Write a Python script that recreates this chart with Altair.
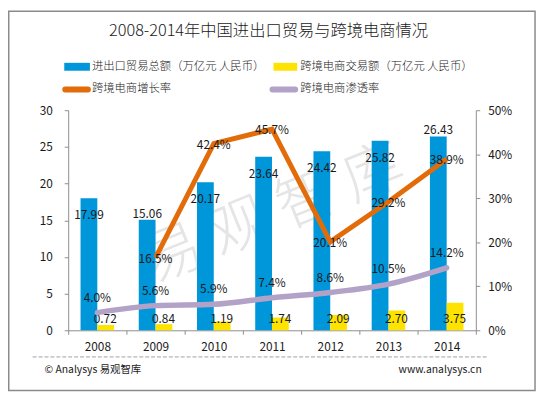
import altair as alt
import pandas as pd

# ---------------- data ----------------
years = ["2008", "2009", "2010", "2011", "2012", "2013", "2014"]
trade_total = [17.99, 15.06, 20.17, 23.64, 24.42, 25.82, 26.43]
cb_volume = [0.72, 0.84, 1.19, 1.74, 2.09, 2.70, 3.75]
cb_growth = [None, 0.165, 0.424, 0.457, 0.201, 0.292, 0.389]
cb_penetration = [0.040, 0.056, 0.059, 0.074, 0.086, 0.105, 0.142]

bar_series = ["进出口贸易总额（万亿元 人民币）", "跨境电商交易额（万亿元 人民币）"]
line_series = ["跨境电商增长率", "跨境电商渗透率"]
labels_above_bar = ["2009", "2014"]

title_text = "2008-2014年中国进出口贸易与跨境电商情况"
footer_left = "© Analysys 易观智库"
footer_right = "www.analysys.cn"
watermark_text = "易 观 智 库"

left_ticks = [0, 5, 10, 15, 20, 25, 30]
right_ticks = [0, 0.1, 0.2, 0.3, 0.4, 0.5]

# ---------------- style ----------------
FONT = "Noto Sans CJK SC"
BLUE = "#0096DA"
YELLOW = "#FFE300"
ORANGE = "#E36C0A"
PURPLE = "#B3A2C7"
AXIS_GRAY = "#8C8C8C"
TEXT = "#1A1A1A"

bars_df = pd.DataFrame({
    "year": years * 2,
    "series": [bar_series[0]] * len(years) + [bar_series[1]] * len(years),
    "value": trade_total + cb_volume,
})
wide = pd.DataFrame({
    "year": years,
    "total": trade_total,
    "volume": cb_volume,
    "growth": cb_growth,
    "pen": cb_penetration,
})

x_enc = alt.X("year:N", title=None,
              scale=alt.Scale(paddingInner=0, paddingOuter=0),
              axis=alt.Axis(labelAngle=0, tickBand="extent", tickSize=4,
                            labelPadding=7, domainColor=AXIS_GRAY,
                            tickColor=AXIS_GRAY, labelColor=TEXT,
                            labelFont=FONT, labelFontSize=12, grid=False))

y_left_scale = alt.Scale(domain=[0, 30], nice=False)
y_left_axis = alt.Axis(values=left_ticks, title=None, grid=False, tickSize=4,
                       labelPadding=12, domainColor=AXIS_GRAY, tickColor=AXIS_GRAY,
                       labelColor=TEXT, labelFont=FONT, labelFontSize=12)
y_right_scale = alt.Scale(domain=[0, 0.5], nice=False)
y_right_axis = alt.Axis(values=right_ticks, format=".0%", orient="right", title=None,
                        grid=False, tickSize=4, labelPadding=8,
                        domainColor=AXIS_GRAY, tickColor=AXIS_GRAY,
                        labelColor=TEXT, labelFont=FONT, labelFontSize=12)

# ---------------- left (bars) ----------------
bars = alt.Chart(bars_df).mark_bar().encode(
    x=x_enc,
    xOffset=alt.XOffset("series:N", sort=bar_series,
                        scale=alt.Scale(domain=bar_series, paddingInner=0, paddingOuter=0.735)),
    y=alt.Y("value:Q", scale=y_left_scale, axis=y_left_axis),
    color=alt.Color("series:N", scale=alt.Scale(domain=bar_series, range=[BLUE, YELLOW]), legend=None),
)

lab_kw = dict(font=FONT, fontSize=12, color=TEXT, baseline="middle", align="center")

total_in = alt.Chart(wide).transform_filter(
    alt.FieldOneOfPredicate(field="year", oneOf=[y for y in years if y not in labels_above_bar])
).mark_text(dx=-8.5, dy=17, **lab_kw).encode(
    x=x_enc, y=alt.Y("total:Q", scale=y_left_scale, axis=y_left_axis),
    text=alt.Text("total:Q", format=".2f"))
total_above = alt.Chart(wide).transform_filter(
    alt.FieldOneOfPredicate(field="year", oneOf=labels_above_bar)
).mark_text(dx=-8.5, dy=-6, **lab_kw).encode(
    x=x_enc, y=alt.Y("total:Q", scale=y_left_scale, axis=y_left_axis),
    text=alt.Text("total:Q", format=".2f"))
volume_lab = alt.Chart(wide).mark_text(dx=8, **lab_kw).encode(
    x=x_enc, y=alt.value(211.5),
    text=alt.Text("volume:Q", format=".2f"))

left = alt.layer(bars, total_in, total_above, volume_lab)

# ---------------- right (lines) ----------------
growth_line = alt.Chart(wide).mark_line(color=ORANGE, strokeWidth=5).encode(
    x=x_enc, y=alt.Y("growth:Q", scale=y_right_scale, axis=y_right_axis))
pen_line = alt.Chart(wide).mark_line(color=PURPLE, strokeWidth=5.5, interpolate="monotone",
                                     strokeCap="round").encode(
    x=x_enc, y=alt.Y("pen:Q", scale=y_right_scale, axis=y_right_axis))
growth_lab = alt.Chart(wide).mark_text(dy=1, **lab_kw).encode(
    x=x_enc, y=alt.Y("growth:Q", scale=y_right_scale, axis=y_right_axis),
    text=alt.Text("growth:Q", format=".1%"))
pen_lab = alt.Chart(wide).mark_text(dy=-15, **lab_kw).encode(
    x=x_enc, y=alt.Y("pen:Q", scale=y_right_scale, axis=y_right_axis),
    text=alt.Text("pen:Q", format=".1%"))

right = alt.layer(growth_line, pen_line, growth_lab, pen_lab)

# ---------------- decorations ----------------
one = pd.DataFrame({"k": [0]})


def txt(s, x, y, **kw):
    return alt.Chart(pd.DataFrame({"t": [s]})).mark_text(**kw).encode(
        text="t:N", x=alt.value(x), y=alt.value(y))


def swatch(color, x, x2, y, y2):
    return alt.Chart(one).mark_rect(color=color).encode(
        x=alt.value(x), x2=alt.value(x2), y=alt.value(y), y2=alt.value(y2))


def line_swatch(color, x, x2, y):
    return alt.Chart(one).mark_rule(color=color, strokeWidth=6, strokeCap="round").encode(
        x=alt.value(x), x2=alt.value(x2), y=alt.value(y))


watermark = txt(watermark_text, 208, 106, font=FONT, fontSize=60, fontWeight=300,
                color="#D0D0D0", opacity=0.55, angle=338, align="center", baseline="middle")

leg_kw = dict(font=FONT, fontSize=11.5, fontWeight=300, color=TEXT, align="left", baseline="middle")
deco = [
    txt(title_text, 203, -80, font=FONT, fontSize=16.5, fontWeight=300, color=TEXT,
        align="center", baseline="middle"),
    swatch(BLUE, -4, 22, -48, -40),
    txt(bar_series[0], 24, -44, **leg_kw),
    swatch(YELLOW, 208, 232, -48, -40),
    txt(bar_series[1], 235, -44, **leg_kw),
    line_swatch(ORANGE, -3, 20, -21),
    txt(line_series[0], 24, -21, **leg_kw),
    line_swatch(PURPLE, 207, 230, -21),
    txt(line_series[1], 235, -21, **leg_kw),
    alt.Chart(one).mark_rule(color="#A0A0A0", strokeDash=[4, 2], strokeWidth=1).encode(
        x=alt.value(-36), x2=alt.value(426), y=alt.value(250)),
    txt(footer_left, -24, 263, font=FONT, fontSize=10.5, color=TEXT, align="left", baseline="middle"),
    txt(footer_right, 419, 263, font=FONT, fontSize=10.5, color=TEXT, align="right", baseline="middle"),
    alt.Chart(one).mark_rect(fillOpacity=0, stroke="#8A8A8A", strokeWidth=1.5).encode(
        x=alt.value(-60.25), x2=alt.value(473), y=alt.value(-100.25), y2=alt.value(284)),
]

chart = alt.layer(watermark, left, right, *deco).resolve_scale(y="independent").properties(
    width=413, height=223,
    autosize=alt.AutoSizeParams(type="none"),
    padding={"left": 61, "top": 101, "right": 62, "bottom": 63},
    background="white",
).configure_view(strokeWidth=0)

chart.save("out.html", embed_options={"renderer": "svg", "actions": False})
